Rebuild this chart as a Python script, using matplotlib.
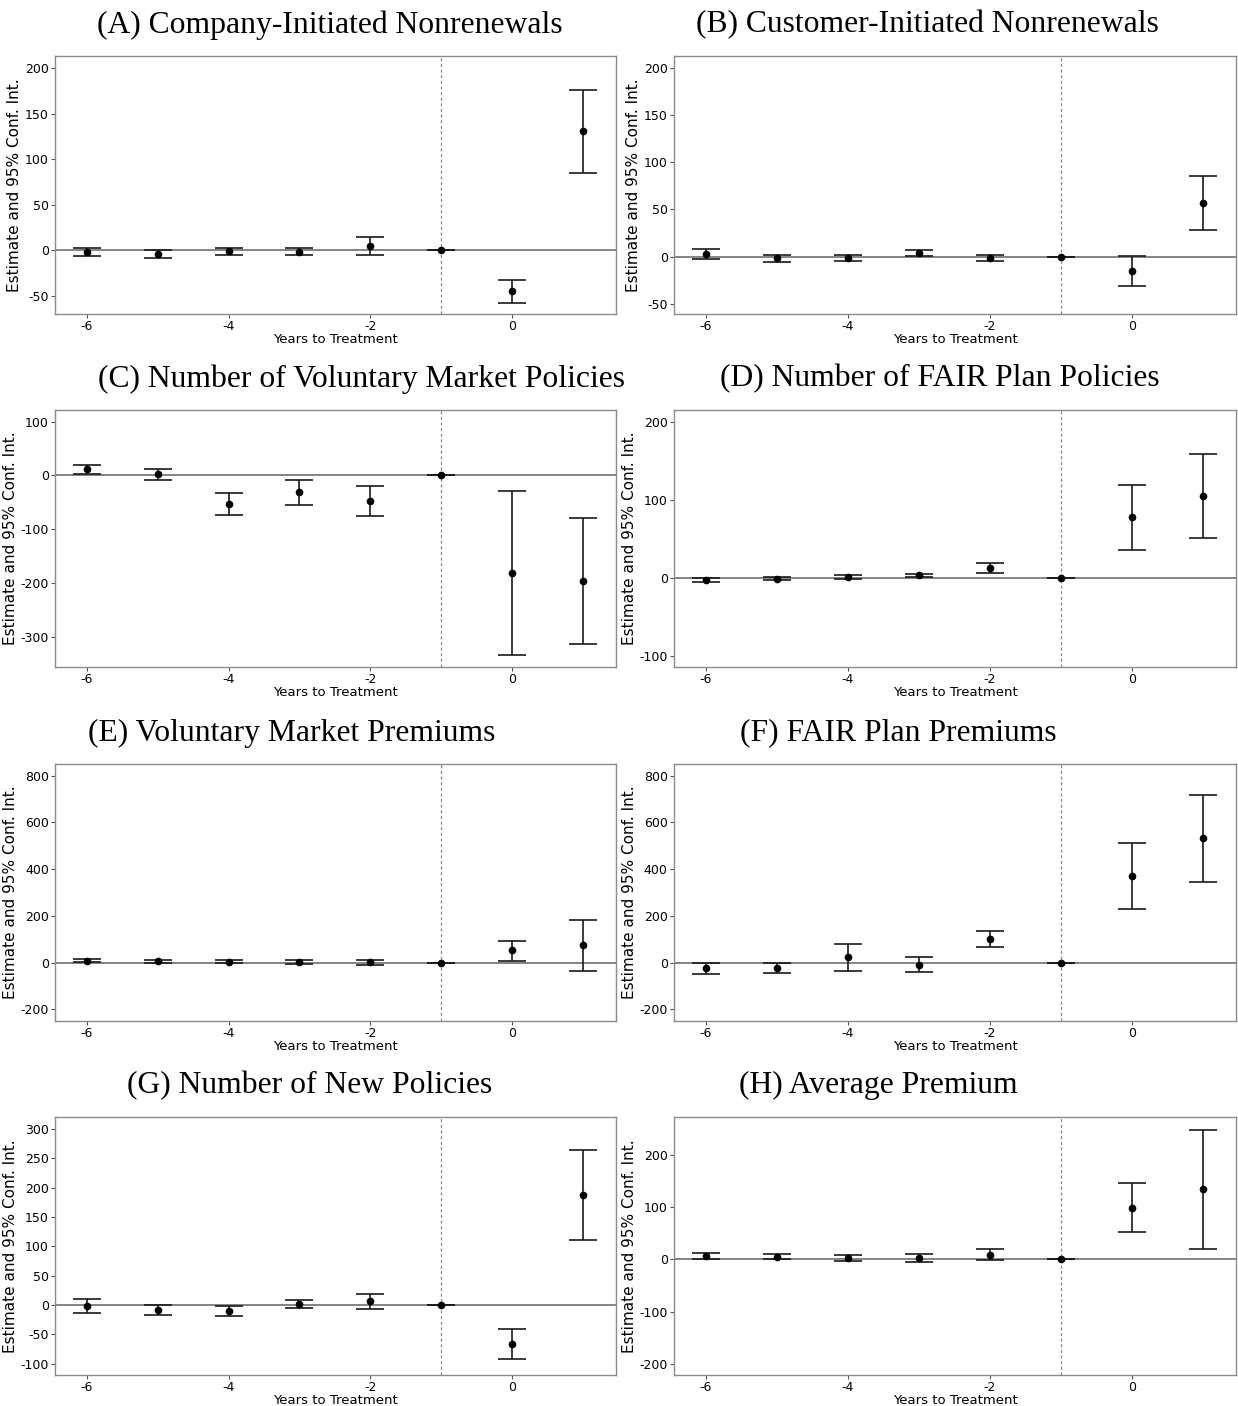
import matplotlib
matplotlib.use("Agg")
import matplotlib.pyplot as plt
import numpy as np

plt.rcParams["axes.unicode_minus"] = False

YEARS = [-6, -5, -4, -3, -2, -1, 0, 1]
XTICKS = [-6, -4, -2, 0]

# (A) Company-Initiated Nonrenewals
A_EST = [-1.5, -4, -1, -1.5, 5, 0, -45, 130.8]
A_LO = [-6.6, -8.4, -5.5, -4.8, -4.8, 0, -57.9, 85.3]
A_HI = [3, 0, 3, 2, 15, 0, -32.6, 175.8]

# (B) Customer-Initiated Nonrenewals
B_EST = [2.8, -1.8, -1, 3.9, -1.4, 0, -15.6, 57]
B_LO = [-2.5, -5.7, -4.6, 0.7, -4.6, 0, -31.6, 28.4]
B_HI = [7.8, 1.8, 1.8, 7.1, 1.8, 0, 0.4, 85.5]

# (C) Number of Voluntary Market Policies
C_EST = [11.2, 2.5, -53.4, -31.7, -47.8, 0, -181.4, -196.9]
C_LO = [2.5, -8.1, -73.3, -55.3, -75.8, 0, -334, -313.7]
C_HI = [19.9, 12.4, -32.9, -8.7, -19.9, 0, -28.6, -78.9]

# (D) Number of FAIR Plan Policies
D_EST = [-2.1, -0.9, 1.3, 3.4, 12.8, 0, 77.8, 104.7]
D_LO = [-4.7, -3, -1.3, 0.9, 6.8, 0, 35.9, 51.3]
D_HI = [-0.4, 1.3, 3.4, 5.6, 18.8, 0, 119.2, 159]

# (E) Voluntary Market Premiums
E_EST = [8.6, 7.1, 4.3, 2.9, 2.9, 0, 52.7, 74]
E_LO = [1.4, 0, -1.4, -5.7, -8.6, 0, 8.6, -35.6]
E_HI = [14.3, 12.8, 10, 11.4, 12.8, 0, 94, 184]

# (F) FAIR Plan Premiums
F_EST = [-22.8, -21.4, 22.8, -8.6, 101.3, 0, 370.9, 532]
F_LO = [-48.5, -45.6, -34.2, -38.5, 65.6, 0, 229.7, 346.6]
F_HI = [0, 0, 79.9, 22.8, 137, 0, 512, 717.5]

# (G) Number of New Policies
G_EST = [-2.3, -8, -9.7, 2.3, 6.3, 0, -65.9, 188]
G_LO = [-14.2, -17, -18.8, -5.1, -6.8, 0, -92, 111.4]
G_HI = [10.2, 0, -1.7, 9.1, 18.8, 0, -40.3, 264.2]

# (H) Average Premium
H_EST = [6.4, 5.1, 2.6, 2.6, 8.9, 0, 98.9, 134.6]
H_LO = [0, 0, -2.6, -4.5, -1.3, 0, 51.7, 20.4]
H_HI = [11.5, 9.6, 7.7, 9.6, 19.1, 0, 145.5, 248.2]

TITLES = [
    "(A) Company-Initiated Nonrenewals",
    "(B) Customer-Initiated Nonrenewals",
    "(C) Number of Voluntary Market Policies",
    "(D) Number of FAIR Plan Policies",
    "(E) Voluntary Market Premiums",
    "(F) FAIR Plan Premiums",
    "(G) Number of New Policies",
    "(H) Average Premium",
]
YTICKS = [
    [-50, 0, 50, 100, 150, 200],
    [-50, 0, 50, 100, 150, 200],
    [-300, -200, -100, 0, 100],
    [-100, 0, 100, 200],
    [-200, 0, 200, 400, 600, 800],
    [-200, 0, 200, 400, 600, 800],
    [-100, -50, 0, 50, 100, 150, 200, 250, 300],
    [-200, -100, 0, 100, 200],
]
YLIMS = [(-70, 213.5), (-61, 213), (-356.5, 121.7), (-114, 215),
         (-249.5, 849.6), (-249.6, 850), (-119.3, 320.5), (-221.4, 272.4)]

SERIES = [(A_EST, A_LO, A_HI), (B_EST, B_LO, B_HI), (C_EST, C_LO, C_HI),
          (D_EST, D_LO, D_HI), (E_EST, E_LO, E_HI), (F_EST, F_LO, F_HI),
          (G_EST, G_LO, G_HI), (H_EST, H_LO, H_HI)]

W, H = 1238, 1406
fig = plt.figure(figsize=(W / 100, H / 100), dpi=100)

# axes boxes in pixels: left, right, top, bottom
col_x = [(55, 616), (674, 1236)]
row_y = [(56, 314), (410, 667), (764, 1021), (1117, 1375)]
title_cx = [330, 927, 362, 940, 292, 898, 310, 878]

for i, ((est, lo, hi), title) in enumerate(zip(SERIES, TITLES)):
    r, c = divmod(i, 2)
    x0, x1 = col_x[c]
    y0, y1 = row_y[r]
    ax = fig.add_axes([x0 / W, 1 - y1 / H, (x1 - x0) / W, (y1 - y0) / H])
    est = np.asarray(est); lo = np.asarray(lo); hi = np.asarray(hi)
    ax.axhline(0, color="#6f6f6f", lw=1.2, zorder=1)
    ax.axvline(-1, color="#8a8a8a", lw=0.9, ls=(0, (2.5, 2)), zorder=1)
    ax.errorbar(YEARS, est, yerr=[est - lo, hi - est], fmt="o", color="black",
                ms=4.5, ecolor="#1a1a1a", elinewidth=1.2, capsize=10,
                capthick=1.2, zorder=3)
    ax.set_xlim(-6.45, 1.47)
    ax.set_ylim(*YLIMS[i])
    ax.set_xticks(XTICKS)
    ax.set_yticks(YTICKS[i])
    ax.tick_params(labelsize=9, length=3, color="#555555", pad=1.5)
    ax.set_xlabel("Years to Treatment", fontsize=9.5, labelpad=-0.5)
    ax.set_ylabel("Estimate and 95% Conf. Int.", fontsize=11, labelpad=2)
    for s in ax.spines.values():
        s.set_color("#8c8c8c")
        s.set_linewidth(1.0)
    fig.text(title_cx[i] / W, 1 - (y0 - 23.5) / H, title, ha="center",
             va="baseline", fontsize=22.8, family="Liberation Serif")

fig.savefig("out.png", dpi=100)
